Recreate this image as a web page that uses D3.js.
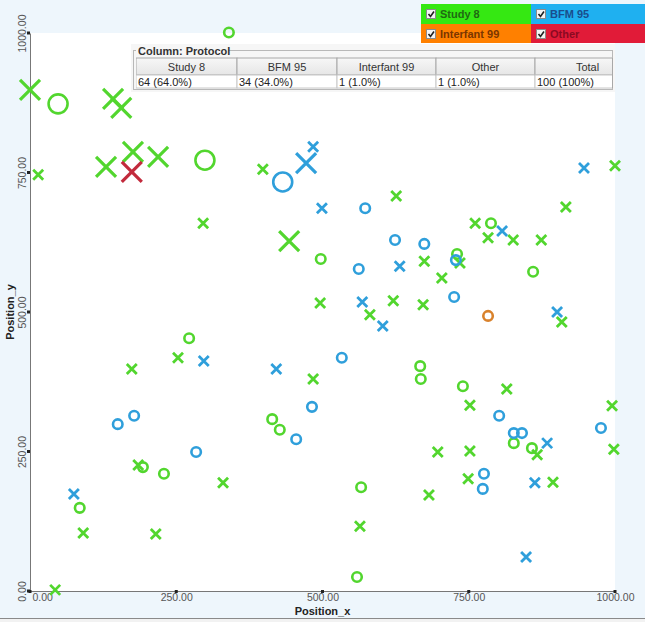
<!DOCTYPE html>
<html>
<head>
<meta charset="utf-8">
<script src="https://cdn.jsdelivr.net/npm/d3@7"></script>
<style>
  html, body { margin: 0; padding: 0; background: #eef6fc; }
  svg { display: block; font-family: "Liberation Sans", Arial, sans-serif; }
</style>
</head>
<body>
<svg id="chart" width="645" height="622"></svg>
<script>
// ---- data ----
const categories = ["Study 8", "BFM 95", "Interfant 99", "Other"];
const counts = [64, 34, 1, 1];
const percents = ["64.0%", "34.0%", "1.0%", "1.0%"];
const totalLabel = "100 (100%)";
const xTicks = [0, 250, 500, 750, 1000];
const yTicks = [0, 250, 500, 750, 1000];
const xTitle = "Position_x";
const yTitle = "Position_y";

// each point: [Position_x, Position_y, shape ("o" circle / "x" cross), size class]
const study8 = [
  [340,1001,"o",1],[0,898,"x",2],[48,873,"o",2],[142,882,"x",2],[156,866,"x",2],
  [14,746,"x",1],[130,760,"x",2],[176,787,"x",2],[219,778,"x",2],[299,772,"o",2],
  [398,756,"x",1],[296,659,"x",1],[443,627,"x",2],[497,595,"o",1],[496,516,"x",1],
  [272,453,"o",1],[253,418,"x",1],[174,398,"x",1],[484,380,"x",1],[414,308,"o",1],
  [427,289,"o",1],[185,226,"x",1],[193,222,"o",1],[229,210,"o",1],[330,194,"x",1],
  [85,149,"o",1],[91,104,"x",1],[215,102,"x",1],[564,116,"x",1],[559,25,"o",1],
  [43,2,"x",1],[1000,762,"x",1],[626,708,"x",1],[916,688,"x",1],[761,659,"x",1],
  [788,659,"o",1],[783,633,"x",1],[826,629,"x",1],[874,629,"x",1],[730,604,"o",1],
  [735,588,"x",1],[674,591,"x",1],[704,561,"x",1],[860,572,"o",1],[621,520,"x",1],
  [672,513,"x",1],[581,495,"x",1],[909,482,"x",1],[667,403,"o",1],[668,380,"o",1],
  [740,367,"o",1],[815,362,"x",1],[752,333,"x",1],[995,332,"x",1],[827,265,"o",1],
  [858,256,"o",1],[867,244,"x",1],[998,254,"x",1],[697,249,"x",1],[752,251,"x",1],
  [749,201,"x",1],[894,195,"x",1],[566,186,"o",1],[682,172,"x",1]
];
const bfm95 = [
  [432,733,"o",2],[472,767,"x",2],[484,796,"x",1],[499,686,"x",1],[297,412,"x",1],
  [421,398,"x",1],[482,330,"o",1],[178,314,"o",1],[150,299,"o",1],[455,272,"o",1],
  [284,249,"o",1],[75,174,"x",1],[848,61,"x",1],[947,758,"x",1],[573,686,"o",1],
  [807,645,"x",1],[624,629,"o",1],[674,622,"o",1],[728,593,"o",1],[562,577,"o",1],
  [632,582,"x",1],[725,527,"o",1],[568,518,"x",1],[901,500,"x",1],[603,475,"x",1],
  [533,418,"o",1],[802,314,"o",1],[976,292,"o",1],[827,283,"o",1],[841,283,"o",1],
  [884,265,"x",1],[776,210,"o",1],[774,183,"o",1],[863,194,"x",1]
];
const interfant99 = [[783,493,"o",1]];
const other = [[174,751,"x",2]];

const seriesData = [study8, bfm95, interfant99, other];
const markColors = ["#52d62e", "#2f9fdb", "#d9822c", "#c22a3c"];
const legendColors = ["#35e812", "#1fb0f0", "#ff8000", "#e11b38"];
const legendText = ["#1f6a12", "#1a4d8c", "#7a3600", "#8a0a22"];

// ---- layout ----
const svg = d3.select("#chart");
const W = 645, H = 622;
const pL = 30, pR = 615, pT = 33, pB = 591;

svg.append("rect").attr("x", 0).attr("y", 0).attr("width", W).attr("height", H).attr("fill", "#eef6fc");
svg.append("rect").attr("x", 0).attr("y", 618).attr("width", W).attr("height", 4).attr("fill", "#f2f2f2");
svg.append("line").attr("x1", 0).attr("x2", W).attr("y1", 618.5).attr("y2", 618.5).attr("stroke", "#8a8a8a");

svg.append("rect").attr("x", pL).attr("y", pT).attr("width", pR - pL).attr("height", pB - pT).attr("fill", "#ffffff");

const x = d3.scaleLinear().domain([0, 1000]).range([pL, pR]);
const y = d3.scaleLinear().domain([0, 1000]).range([pB, pT]);
const size = d3.scaleLinear().domain([1, 2]).range([5, 10]);

// axes
const fmt = d3.format(".2f");
const xAxis = svg.append("g").attr("transform", `translate(0,${pB})`)
  .call(d3.axisBottom(x).tickValues(xTicks).tickSize(0).tickPadding(3).tickFormat(fmt));
xAxis.select(".domain").attr("stroke", "#777");
xAxis.selectAll("text").attr("font-size", 10.5).attr("fill", "#555")
  .attr("font-family", "'Liberation Sans', Arial, sans-serif")
  .attr("text-anchor", d => d === 0 ? "start" : "middle")
  .attr("dx", d => d === 0 ? 2 : 0);

const yAxis = svg.append("g").attr("transform", `translate(${pL},0)`)
  .call(d3.axisLeft(y).tickValues(yTicks).tickSize(0).tickFormat(fmt));
yAxis.select(".domain").attr("stroke", "#777");
yAxis.selectAll("text")
  .attr("font-size", 10.5).attr("fill", "#555")
  .attr("font-family", "'Liberation Sans', Arial, sans-serif")
  .attr("text-anchor", "middle").attr("dy", 0).attr("x", 0)
  .attr("transform", "translate(-4,0) rotate(-90)");

// tick marks (small dark squares)
svg.append("g").selectAll("rect").data(xTicks).join("rect")
  .attr("x", d => x(d) - 1.5).attr("y", pB - 1).attr("width", 3).attr("height", 3).attr("fill", "#222");
svg.append("g").selectAll("rect").data(yTicks).join("rect")
  .attr("x", pL - 3).attr("y", d => y(d) - 1.5).attr("width", 3).attr("height", 3).attr("fill", "#222");

// axis titles
svg.append("text").attr("x", (pL + pR) / 2).attr("y", 615).attr("text-anchor", "middle")
  .attr("font-size", 11).attr("font-weight", "bold").attr("fill", "#222").text(xTitle);
svg.append("text").attr("transform", `translate(14,${(pT + pB) / 2}) rotate(-90)`).attr("text-anchor", "middle")
  .attr("font-size", 11).attr("font-weight", "bold").attr("fill", "#222").text(yTitle);

// points
const pts = svg.append("g");
seriesData.forEach((data, si) => {
  const g = pts.append("g");
  data.forEach(d => {
    const cx = x(d[0]), cy = y(d[1]), s = size(d[3]);
    if (d[2] === "o") {
      g.append("circle").attr("cx", cx).attr("cy", cy).attr("r", s * 0.95)
        .attr("fill", "none").attr("stroke", markColors[si]).attr("stroke-width", 2.6);
    } else {
      g.append("path")
        .attr("d", `M${cx - s},${cy - s}L${cx + s},${cy + s}M${cx - s},${cy + s}L${cx + s},${cy - s}`)
        .attr("fill", "none").attr("stroke", markColors[si]).attr("stroke-width", d[3] > 1 ? 3.2 : 2.8);
    }
  });
});

// ---- summary table ----
const tb = svg.append("g");
tb.append("rect").attr("x", 131).attr("y", 44).attr("width", 484).attr("height", 48).attr("fill", "#f6f6f6");
tb.append("rect").attr("x", 133.5).attr("y", 50.5).attr("width", 479).attr("height", 39).attr("fill", "none").attr("stroke", "#b8b8b8");
tb.append("rect").attr("x", 136).attr("y", 45).attr("width", 92).attr("height", 11).attr("fill", "#f6f6f6");
tb.append("text").attr("x", 138).attr("y", 55).attr("font-size", 11).attr("font-weight", "bold").attr("fill", "#333").text("Column: Protocol");

const colEdges = [136, 237, 337, 436, 535, 640];
const headers = categories.concat(["Total"]);
const cells = categories.map((c, i) => `${counts[i]} (${percents[i]})`).concat([totalLabel]);
const defs = svg.append("defs");
const grad = defs.append("linearGradient").attr("id", "hdr").attr("x1", 0).attr("x2", 0).attr("y1", 0).attr("y2", 1);
grad.append("stop").attr("offset", "0%").attr("stop-color", "#f7f7f7");
grad.append("stop").attr("offset", "100%").attr("stop-color", "#e6e6e6");
defs.append("clipPath").attr("id", "tclip").append("rect").attr("x", 136).attr("y", 56).attr("width", 476).attr("height", 34);
const tg = tb.append("g").attr("clip-path", "url(#tclip)");
headers.forEach((h, i) => {
  const x0 = colEdges[i], x1 = colEdges[i + 1];
  tg.append("rect").attr("x", x0).attr("y", 58).attr("width", x1 - x0).attr("height", 17)
    .attr("fill", "url(#hdr)").attr("stroke", "#a8a8a8").attr("stroke-width", 1);
  tg.append("rect").attr("x", x0).attr("y", 75).attr("width", x1 - x0).attr("height", 13)
    .attr("fill", "#ffffff").attr("stroke", "#c8c8c8").attr("stroke-width", 1);
  tg.append("text").attr("x", (x0 + x1) / 2).attr("y", 71).attr("text-anchor", "middle")
    .attr("font-size", 11).attr("fill", "#333").text(h);
  tg.append("text").attr("x", x0 + 2).attr("y", 86).attr("font-size", 11).attr("fill", "#222").text(cells[i]);
});
tb.append("line").attr("x1", 612.5).attr("x2", 612.5).attr("y1", 58).attr("y2", 88).attr("stroke", "#a8a8a8");

// ---- legend ----
const lg = svg.append("g");
const lx = [421, 531], lw = [110, 114], ly = [4, 24], lh = [20, 19];
categories.forEach((c, i) => {
  const col = i % 2, row = Math.floor(i / 2);
  const gx = lx[col], gy = ly[row];
  lg.append("rect").attr("x", gx).attr("y", gy).attr("width", lw[col]).attr("height", lh[row]).attr("fill", legendColors[i]);
  lg.append("rect").attr("x", gx + 5.5).attr("y", gy + 5.5).attr("width", 9).attr("height", 9)
    .attr("fill", "#f4f4f4").attr("stroke", "#8a8a8a");
  lg.append("path").attr("d", `M${gx + 7.5},${gy + 10}L${gx + 9.5},${gy + 12.5}L${gx + 13},${gy + 7.5}`)
    .attr("fill", "none").attr("stroke", "#222").attr("stroke-width", 1.6);
  lg.append("text").attr("x", gx + 19).attr("y", gy + 14).attr("font-size", 11).attr("font-weight", "bold")
    .attr("fill", legendText[i]).text(c);
});
</script>
</body>
</html>
